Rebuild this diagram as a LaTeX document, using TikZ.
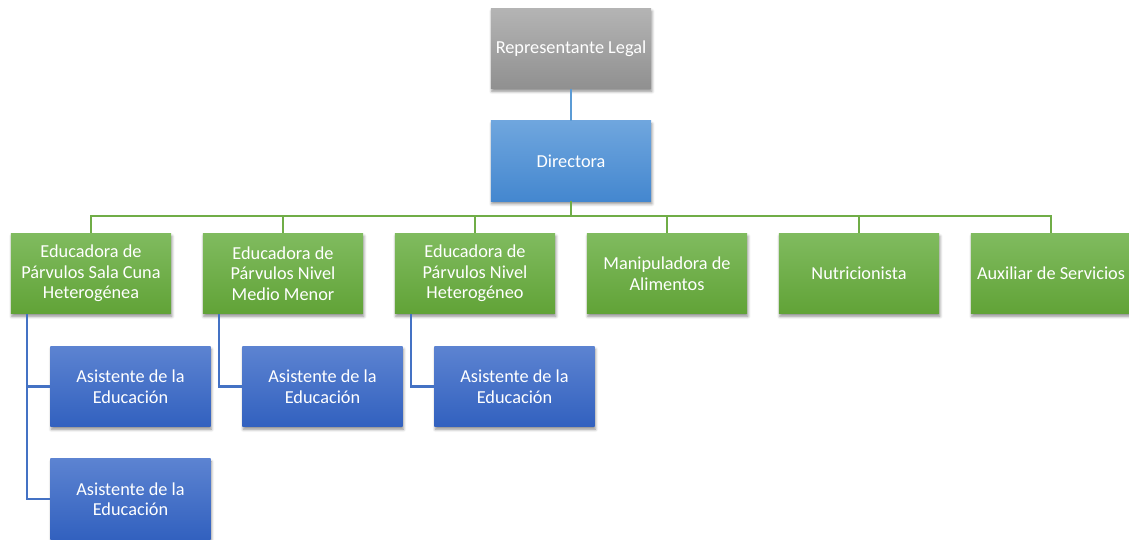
\documentclass[tikz,border=0pt]{standalone}
\usepackage{fontspec}
\setmainfont{Carlito}
\usetikzlibrary{positioning,shadows.blur}
\usepackage{xcolor}

\definecolor{grisA}{HTML}{B4B4B4}
\definecolor{grisB}{HTML}{909090}
\definecolor{dirA}{HTML}{6FA6DE}
\definecolor{dirB}{HTML}{4487CF}
\definecolor{verdeA}{HTML}{80BB5F}
\definecolor{verdeB}{HTML}{61A337}
\definecolor{azulA}{HTML}{5C83D1}
\definecolor{azulB}{HTML}{3261BF}
\definecolor{lineaDir}{HTML}{5B9BD5}
\definecolor{lineaVerde}{HTML}{70AD47}
\definecolor{lineaAzul}{HTML}{4472C4}

\begin{document}
\begin{tikzpicture}[x=0.025cm, y=-0.025cm,
		caja/.style={rectangle, minimum width=4cm, minimum height=2cm, align=center, text=white,
			inner sep=1pt, font=\fontsize{13}{14.6}\selectfont,
			blur shadow={shadow xshift=0.6pt, shadow yshift=-2pt, shadow blur radius=2pt, shadow opacity=45}},
		gris/.style={caja, top color=grisA, bottom color=grisB},
		jefa/.style={caja, top color=dirA, bottom color=dirB},
		verde/.style={caja, top color=verdeA, bottom color=verdeB},
		azul/.style={caja, top color=azulA, bottom color=azulB},
		conector/.style={line width=1.6pt}]
	\clip (0,0) rectangle (1129,539);
	
	% Direccion
	\node[gris] (rep) at (571,48.5) {Representante Legal};
	\node[jefa] (dir) at (571,161) {Directora};
	
	% Personal
	\node[verde] (ed1) at (91,273.5) {Educadora de\\Párvulos Sala Cuna\\Heterogénea};
	\node[verde] (ed2) at (283,273.5) {Educadora de\\Párvulos Nivel\\Medio Menor};
	\node[verde] (ed3) at (475,273.5) {Educadora de\\Párvulos Nivel\\Heterogéneo};
	\node[verde] (man) at (667,273.5) {Manipuladora de\\Alimentos};
	\node[verde] (nut) at (859,273.5) {Nutricionista};
	\node[verde] (aux) at (1051,273.5) {Auxiliar de Servicios};
	
	% Asistentes
	\node[azul] (as1) at (130.5,386.5) {Asistente de la\\Educación};
	\node[azul] (as2) at (130.5,499) {Asistente de la\\Educación};
	\node[azul] (as3) at (322.5,386.5) {Asistente de la\\Educación};
	\node[azul] (as4) at (514.5,386.5) {Asistente de la\\Educación};
	
	% Conectores
	\draw[conector, lineaDir] (rep) -- (dir);
	\foreach \n in {ed1,ed2,ed3,man,nut,aux}
		\draw[conector, lineaVerde] (dir.south) -- ++(0,15) -| (\n.north);
	\draw[conector, lineaAzul] ([xshift=0.4cm]ed1.south west) |- (as1.west);
	\draw[conector, lineaAzul] ([xshift=0.4cm]ed1.south west) |- (as2.west);
	\draw[conector, lineaAzul] ([xshift=0.4cm]ed2.south west) |- (as3.west);
	\draw[conector, lineaAzul] ([xshift=0.4cm]ed3.south west) |- (as4.west);
\end{tikzpicture}
\end{document}
